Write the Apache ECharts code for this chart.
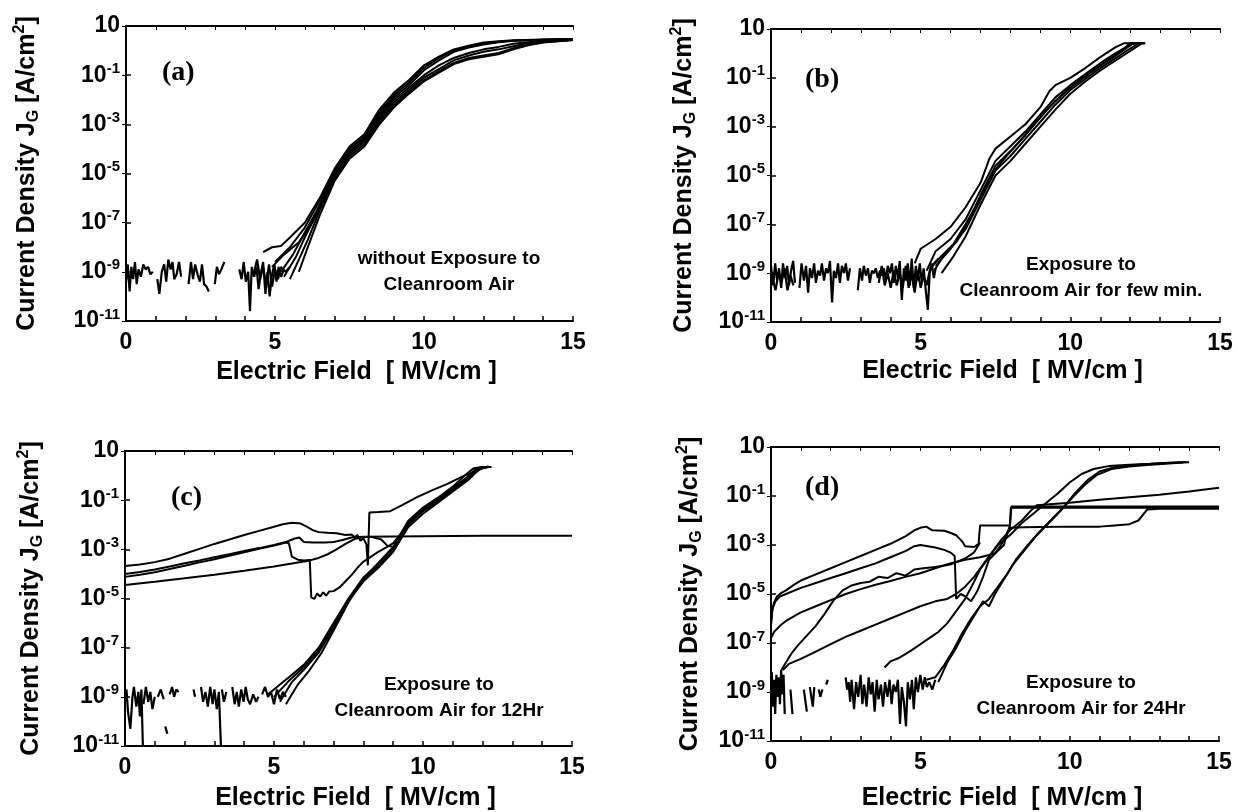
<!DOCTYPE html>
<html>
<head>
<meta charset="utf-8">
<script src="https://cdn.jsdelivr.net/npm/echarts@6.0.0/dist/echarts.min.js"></script>
<style>
html, body { margin: 0; padding: 0; background: #fff; }
#main { width: 1238px; height: 812px; }
</style>
</head>
<body>
<div id="main"></div>
<script>
// every point is [E in MV/cm, log10 of J in A/cm2]

// (a) without exposure
const a1 = [[4.6,-8.2],[4.9,-8.0],[5.2,-7.95],[5.5,-7.6],[6.0,-7.0],[6.5,-6.0],[7.0,-4.8],[7.5,-3.9],[8.0,-3.4],[8.5,-2.4],[9.0,-1.7],[9.5,-1.2],[10.0,-0.6],[10.5,-0.25],[11.0,0.05],[11.5,0.2],[12.0,0.33],[12.5,0.38],[13.0,0.42],[14.0,0.45],[15.0,0.47]];
const a2 = [[5.0,-8.6],[5.5,-8.0],[6.0,-7.2],[6.5,-6.1],[7.0,-4.9],[7.5,-4.0],[8.0,-3.5],[8.5,-2.5],[9.0,-1.8],[9.5,-1.3],[10.0,-0.7],[10.5,-0.3],[11.0,0.0],[11.5,0.18],[12.0,0.3],[12.5,0.36],[13.0,0.4],[14.0,0.44],[15.0,0.47]];
const a3 = [[5.2,-9.0],[5.6,-8.3],[6.0,-7.4],[6.5,-6.3],[7.0,-5.0],[7.5,-4.1],[8.0,-3.6],[8.5,-2.6],[9.0,-1.9],[9.5,-1.4],[10.0,-0.8],[10.5,-0.4],[11.0,-0.05],[11.5,0.12],[12.0,0.25],[12.5,0.34],[13.0,0.4],[14.0,0.44],[15.0,0.46]];
const a4 = [[5.3,-9.2],[5.7,-8.4],[6.0,-7.6],[6.5,-6.4],[7.0,-5.1],[7.5,-4.2],[8.0,-3.7],[8.5,-2.8],[9.0,-2.1],[9.5,-1.6],[10.0,-1.1],[10.5,-0.75],[11.0,-0.4],[11.5,-0.2],[12.0,-0.05],[12.5,0.05],[13.0,0.18],[13.5,0.3],[14.0,0.36],[15.0,0.44]];
const a5 = [[5.5,-9.3],[5.8,-8.5],[6.1,-7.7],[6.5,-6.5],[7.0,-5.2],[7.5,-4.3],[8.0,-3.8],[8.5,-2.9],[9.0,-2.2],[9.5,-1.7],[10.0,-1.2],[10.5,-0.85],[11.0,-0.5],[11.5,-0.3],[12.0,-0.2],[12.5,-0.1],[13.0,0.1],[13.5,0.25],[14.0,0.34],[15.0,0.43]];
const a6 = [[5.8,-9.0],[6.1,-8.0],[6.5,-6.7],[7.0,-5.3],[7.5,-4.4],[8.0,-3.9],[8.5,-3.0],[9.0,-2.3],[9.5,-1.75],[10.0,-1.25],[10.5,-0.9],[11.0,-0.55],[11.5,-0.35],[12.0,-0.25],[12.5,-0.15],[13.0,0.05],[13.5,0.22],[14.0,0.33],[15.0,0.43]];
const a7 = [[4.9,-8.8],[5.3,-8.3],[5.8,-7.8],[6.2,-7.1],[6.6,-6.0],[7.0,-5.0],[7.5,-4.2],[8.0,-3.6],[8.5,-2.7],[9.0,-2.0],[9.5,-1.5],[10.0,-1.0],[10.5,-0.6],[11.0,-0.3],[11.5,-0.1],[12.0,0.05],[12.5,0.15],[13.0,0.28],[14.0,0.4],[15.0,0.45]];
const aNoise = [
  [[0.0,-9.4],[0.06,-8.7],[0.12,-9.8],[0.18,-8.8],[0.24,-9.3],[0.3,-8.6],[0.36,-9.5],[0.42,-8.9],[0.5,-9.2],[0.58,-8.7],[0.66,-8.9],[0.74,-8.8],[0.82,-9.1],[0.9,-9.0]],
  [[1.05,-9.3],[1.12,-9.9],[1.2,-9.0],[1.28,-8.7],[1.35,-9.4],[1.42,-8.5],[1.5,-8.9],[1.56,-8.6],[1.62,-9.3],[1.7,-9.1],[1.78,-8.6],[1.85,-9.2]],
  [[2.1,-9.5],[2.18,-8.6],[2.25,-9.3],[2.32,-8.7],[2.4,-9.1],[2.48,-9.4],[2.55,-8.7],[2.62,-9.5],[2.7,-9.6],[2.78,-9.8]],
  [[2.98,-9.5],[3.05,-8.8],[3.12,-9.1],[3.2,-8.9],[3.3,-8.6]],
  [[3.8,-8.9],[3.88,-9.3],[3.95,-8.6],[4.02,-9.4],[4.1,-9.0],[4.16,-10.6],[4.22,-8.8],[4.3,-9.2],[4.38,-8.8],[4.45,-9.7],[4.52,-9.1],[4.6,-8.6],[4.68,-9.9],[4.75,-9.0],[4.82,-10.0],[4.9,-9.1],[4.98,-8.7],[5.05,-9.4],[5.12,-8.8],[5.2,-9.2],[5.3,-8.9]],
  [[4.3,-9.0],[4.4,-8.5],[4.5,-9.3],[4.6,-8.8],[4.7,-9.5],[4.8,-8.7],[4.9,-9.6],[5.0,-8.9],[5.1,-9.3],[5.2,-8.8],[5.35,-9.0],[5.5,-8.8]]
];

// (b) few minutes
const b1 = [[4.8,-8.6],[5.0,-8.0],[5.5,-7.6],[6.0,-7.1],[6.5,-6.3],[7.0,-5.3],[7.3,-4.3],[7.5,-3.9],[8.0,-3.4],[8.5,-2.9],[9.0,-2.2],[9.3,-1.55],[9.5,-1.3],[10.0,-1.0],[10.5,-0.6],[11.0,-0.15],[11.5,0.25],[11.8,0.42],[12.2,0.42]];
const b2 = [[5.2,-8.9],[5.5,-8.1],[6.0,-7.6],[6.5,-6.8],[7.0,-5.6],[7.5,-4.4],[8.0,-3.8],[8.5,-3.2],[9.0,-2.5],[9.5,-1.8],[10.0,-1.3],[10.5,-0.85],[11.0,-0.4],[11.5,0.0],[12.0,0.35],[12.2,0.42],[12.4,0.42]];
const b3 = [[5.4,-9.0],[5.8,-8.2],[6.2,-7.7],[6.6,-6.9],[7.0,-5.8],[7.5,-4.6],[8.0,-4.0],[8.5,-3.35],[9.0,-2.6],[9.5,-1.95],[10.0,-1.4],[10.5,-0.95],[11.0,-0.5],[11.5,-0.1],[11.8,0.15],[12.1,0.42],[12.4,0.42]];
const b4 = [[5.5,-8.7],[6.0,-8.0],[6.5,-7.2],[7.0,-6.0],[7.5,-4.8],[8.0,-4.2],[8.5,-3.5],[9.0,-2.8],[9.5,-2.1],[10.0,-1.5],[10.5,-1.05],[11.0,-0.6],[11.5,-0.2],[12.0,0.2],[12.3,0.42],[12.5,0.42]];
const b5 = [[5.7,-9.0],[6.1,-8.3],[6.5,-7.5],[7.0,-6.2],[7.5,-5.0],[8.0,-4.4],[8.5,-3.7],[9.0,-3.0],[9.5,-2.3],[10.0,-1.65],[10.5,-1.15],[11.0,-0.7],[11.5,-0.3],[12.0,0.1],[12.4,0.42],[12.5,0.42]];
const b6 = [[5.3,-8.8],[5.7,-8.3],[6.1,-7.8],[6.5,-7.0],[7.0,-5.9],[7.4,-4.9],[7.8,-4.3],[8.3,-3.6],[8.8,-2.9],[9.3,-2.2],[9.8,-1.6],[10.3,-1.1],[10.8,-0.65],[11.3,-0.25],[11.7,0.1],[12.0,0.42],[12.3,0.42]];
const bNoise = [
  [[0.0,-8.7],[0.07,-9.5],[0.14,-8.6],[0.2,-9.3],[0.27,-8.8],[0.34,-9.6],[0.4,-8.6],[0.47,-9.2],[0.54,-8.7],[0.6,-9.5],[0.67,-8.9],[0.74,-8.5],[0.8,-9.4]],
  [[0.95,-9.6],[1.02,-8.6],[1.1,-9.3],[1.17,-8.7],[1.24,-9.8],[1.3,-8.8],[1.37,-9.2],[1.44,-8.6],[1.5,-9.4],[1.57,-8.9],[1.64,-9.1],[1.7,-8.6],[1.77,-9.3],[1.84,-8.8],[1.9,-9.0],[1.97,-8.5],[2.04,-10.2],[2.1,-8.9],[2.17,-9.2],[2.24,-8.6],[2.3,-9.4],[2.37,-8.7],[2.44,-9.0],[2.5,-8.6],[2.57,-9.3],[2.64,-8.8]],
  [[2.9,-9.7],[2.97,-8.8],[3.04,-9.3],[3.1,-8.7],[3.17,-9.1],[3.24,-8.8],[3.3,-9.4],[3.37,-8.9],[3.44,-9.0],[3.5,-8.8],[3.57,-9.2],[3.64,-8.9],[3.7,-9.1],[3.77,-8.8],[3.84,-9.3],[3.9,-8.7],[3.97,-9.0],[4.04,-8.6],[4.1,-9.4],[4.17,-8.7],[4.24,-9.2],[4.3,-8.5],[4.37,-10.1],[4.44,-8.8],[4.5,-9.3],[4.57,-8.6],[4.64,-9.5],[4.7,-8.4],[4.77,-9.6],[4.84,-8.7],[4.9,-9.3],[4.97,-8.6],[5.04,-9.4],[5.1,-8.8],[5.17,-9.7],[5.24,-10.5],[5.3,-9.0],[5.37,-8.6],[5.44,-9.2],[5.5,-8.8]],
  [[0.05,-9.2],[0.15,-9.7],[0.25,-9.0],[0.35,-9.4],[0.45,-8.8],[0.55,-9.7],[0.65,-9.1],[0.75,-9.5]],
  [[3.6,-9.4],[3.7,-8.7],[3.8,-9.5],[3.9,-9.0],[4.0,-9.6],[4.1,-8.9],[4.2,-9.5],[4.3,-9.0],[4.4,-9.6],[4.5,-8.7],[4.6,-9.6],[4.7,-9.0],[4.8,-9.8],[4.9,-8.9],[5.0,-9.6],[5.1,-9.1],[5.2,-9.5],[5.3,-8.9],[5.45,-8.6],[5.6,-8.4]]
];

// (c) 12 hours
const c1 = [[4.8,-8.9],[5.2,-8.5],[5.5,-8.2],[6.0,-7.7],[6.5,-7.0],[7.0,-6.0],[7.5,-5.0],[8.0,-4.15],[8.5,-3.6],[9.0,-2.95],[9.5,-1.9],[10.0,-1.35],[10.5,-0.95],[11.0,-0.5],[11.5,-0.05],[11.8,0.3],[12.2,0.35]];
const c2 = [[5.0,-9.0],[5.5,-8.35],[6.0,-7.8],[6.5,-7.1],[7.0,-6.1],[7.5,-5.05],[8.0,-4.25],[8.5,-3.7],[9.0,-3.05],[9.5,-2.0],[10.0,-1.45],[10.5,-1.05],[11.0,-0.6],[11.5,-0.15],[11.9,0.3],[12.2,0.35]];
const c3 = [[5.2,-9.2],[5.6,-8.4],[6.0,-7.9],[6.5,-7.2],[7.0,-6.2],[7.5,-5.1],[8.0,-4.3],[8.5,-3.75],[9.0,-3.1],[9.5,-2.1],[10.0,-1.55],[10.5,-1.1],[11.0,-0.65],[11.5,-0.2],[11.8,0.15],[12.0,0.35],[12.3,0.35]];
const c4 = [[5.4,-9.3],[5.8,-8.5],[6.2,-7.9],[6.6,-7.2],[7.0,-6.3],[7.5,-5.15],[8.0,-4.2],[8.5,-3.55],[9.0,-2.9],[9.5,-1.85],[10.0,-1.3],[10.5,-0.9],[11.0,-0.45],[11.4,0.0],[11.7,0.3],[12.0,0.35]];
const c5 = [[0,-3.68],[0.5,-3.62],[1,-3.52],[1.5,-3.38],[2,-3.18],[2.5,-2.98],[3,-2.78],[3.5,-2.6],[4,-2.42],[4.5,-2.25],[5,-2.08],[5.3,-1.98],[5.6,-1.92],[5.9,-1.95],[6.1,-2.08],[6.3,-2.22],[6.5,-2.3],[6.8,-2.33],[7.1,-2.35],[7.4,-2.42],[7.6,-2.4],[7.7,-2.5],[7.8,-2.42],[7.9,-2.65],[8.0,-2.55],[8.1,-2.8],[8.15,-3.65],[8.2,-1.5],[8.5,-1.48],[8.9,-1.45],[9.3,-1.2],[9.8,-0.88],[10.3,-0.6],[10.8,-0.35],[11.3,-0.05],[11.8,0.2],[12.2,0.38]];
const c6 = [[0,-4.0],[0.5,-3.92],[1,-3.82],[1.5,-3.7],[2,-3.57],[2.5,-3.45],[3,-3.32],[3.5,-3.2],[4,-3.07],[4.5,-2.95],[5,-2.82],[5.4,-2.7],[5.7,-2.56],[5.85,-2.52],[6.0,-2.7],[6.3,-2.72],[6.7,-2.72],[7.0,-2.7],[7.3,-2.62],[7.6,-2.52],[8,-2.49],[9,-2.48],[10,-2.47],[11,-2.46],[12,-2.45],[13,-2.45],[14,-2.45],[15,-2.45]];
const c7 = [[0,-4.12],[0.5,-4.03],[1,-3.93],[1.5,-3.8],[2,-3.67],[2.5,-3.53],[3,-3.4],[3.5,-3.26],[4,-3.12],[4.5,-2.98],[5,-2.85],[5.4,-2.72],[5.5,-2.75],[5.6,-3.3],[5.8,-3.42],[6.0,-3.45],[6.2,-3.43],[6.25,-4.95],[6.35,-5.02],[6.45,-4.8],[6.55,-4.92],[6.65,-4.75],[6.75,-4.88],[6.85,-4.72],[7.0,-4.7],[7.2,-4.55],[7.4,-4.3],[7.6,-4.05],[7.8,-3.75],[8.0,-3.5],[8.2,-3.35],[8.5,-3.1],[8.8,-2.9],[9.0,-2.75],[9.3,-2.3],[9.6,-1.8],[10.0,-1.4],[10.5,-1.0],[11.0,-0.55],[11.5,-0.1],[11.9,0.3],[12.1,0.35]];
const c8 = [[0,-4.45],[1,-4.32],[2,-4.18],[3,-4.03],[4,-3.87],[5,-3.7],[5.6,-3.58],[6.2,-3.45],[6.5,-3.35],[6.8,-3.2],[7.1,-3.0],[7.4,-2.78],[7.7,-2.58],[8.0,-2.5],[8.3,-2.5],[8.6,-2.6],[8.8,-2.85],[9.0,-2.9],[9.2,-2.6],[9.5,-1.95],[10,-1.38],[10.5,-0.98],[11,-0.52],[11.5,-0.08],[11.9,0.33],[12.2,0.35]];
const cNoise = [
  [[0.0,-9.2],[0.05,-8.7],[0.1,-9.6],[0.18,-10.3],[0.25,-9.0],[0.3,-8.6],[0.38,-9.4],[0.45,-8.8],[0.5,-9.8],[0.55,-8.7],[0.6,-11.0]],
  [[0.62,-9.3],[0.7,-8.6],[0.78,-9.2],[0.85,-8.8],[0.92,-9.5],[1.0,-9.0]],
  [[1.1,-9.0],[1.2,-8.7],[1.3,-9.1]],
  [[1.35,-10.2],[1.42,-10.5]],
  [[1.5,-8.9],[1.58,-8.6],[1.65,-9.0],[1.72,-8.7],[1.8,-8.8]],
  [[2.3,-8.7],[2.35,-9.0]],
  [[2.55,-8.6],[2.62,-9.2],[2.7,-8.8],[2.78,-9.4],[2.86,-8.6],[2.94,-9.3],[3.0,-8.7],[3.08,-9.5],[3.15,-8.8],[3.22,-11.0]],
  [[3.25,-8.7],[3.32,-9.2],[3.4,-8.8]],
  [[3.6,-8.6],[3.68,-9.3],[3.75,-8.8],[3.82,-9.4],[3.9,-8.7],[3.98,-9.2],[4.05,-8.6],[4.12,-9.1],[4.2,-9.3],[4.3,-8.9],[4.4,-9.2],[4.48,-9.0]],
  [[4.6,-8.9],[4.7,-8.6],[4.8,-9.0],[4.9,-8.8],[5.0,-9.3],[5.1,-8.7],[5.2,-9.1],[5.3,-8.8],[5.4,-9.0]]
];

// (d) 24 hours
const d1 = [[0.0,-6.3],[0.04,-5.7],[0.1,-5.35],[0.2,-5.1],[0.35,-4.95],[0.5,-4.85],[0.8,-4.6],[1.0,-4.45],[1.5,-4.2],[2.0,-3.95],[2.5,-3.7],[3.0,-3.45],[3.5,-3.2],[4.0,-2.95],[4.5,-2.65],[4.8,-2.4],[5.0,-2.3],[5.2,-2.25],[5.4,-2.4],[5.8,-2.42],[6.0,-2.5],[6.2,-2.6],[6.4,-2.85],[6.5,-3.05],[6.8,-3.08],[6.95,-2.95],[7.0,-2.2],[7.5,-2.2],[8.0,-2.2],[8.05,-1.43],[9,-1.43],[10,-1.43],[11,-1.43],[12,-1.43],[13,-1.43],[14,-1.43],[15,-1.43]];
const d2 = [[0.0,-6.2],[0.05,-5.6],[0.15,-5.3],[0.3,-5.1],[0.5,-5.0],[1.0,-4.75],[1.5,-4.55],[2.0,-4.35],[2.5,-4.15],[3.0,-3.95],[3.5,-3.75],[4.0,-3.5],[4.5,-3.25],[4.8,-3.05],[5.0,-3.0],[5.5,-3.1],[5.8,-3.2],[6.0,-3.3],[6.15,-3.45],[6.2,-5.2],[6.35,-5.0],[6.5,-5.1],[6.7,-5.3],[6.9,-4.9],[7.1,-4.3],[7.3,-3.6],[7.5,-3.35],[7.7,-3.0],[7.9,-2.6],[8.0,-2.2],[8.03,-1.48],[9,-1.48],[10,-1.48],[11,-1.48],[12,-1.48],[13,-1.48],[14,-1.48],[15,-1.48]];
const d3 = [[0.0,-6.8],[0.1,-6.55],[0.3,-6.3],[0.5,-6.1],[1.0,-5.75],[1.5,-5.5],[2.0,-5.25],[2.5,-5.0],[3.0,-4.8],[3.5,-4.62],[4.0,-4.47],[4.5,-4.3],[5.0,-4.15],[5.5,-3.95],[6.0,-3.75],[6.5,-3.6],[7.0,-3.5],[7.5,-3.35],[7.8,-3.0],[7.9,-2.5],[8.0,-2.3],[8.5,-2.28],[9.0,-2.27],[10,-2.25],[11,-2.25],[11.5,-2.2],[12,-2.15],[12.3,-2.0],[12.6,-1.55],[13,-1.52],[14,-1.52],[15,-1.52]];
const d4 = [[0.35,-8.1],[0.5,-7.8],[0.7,-7.4],[0.9,-7.1],[1.2,-6.7],[1.5,-6.3],[1.8,-5.8],[2.1,-5.25],[2.4,-4.85],[2.7,-4.65],[3.0,-4.55],[3.3,-4.5],[3.6,-4.3],[3.9,-4.35],[4.2,-4.15],[4.5,-4.25],[4.8,-4.0],[5.1,-3.95],[5.5,-3.9],[6.0,-3.8],[6.5,-3.55],[6.8,-3.3],[7.0,-2.9]];
const d5 = [[0.4,-8.1],[0.6,-7.85],[1.0,-7.65],[1.5,-7.35],[2.0,-7.05],[2.5,-6.75],[3.0,-6.5],[3.5,-6.25],[4.0,-6.0],[4.5,-5.75],[5.0,-5.5],[5.5,-5.3],[5.9,-5.2],[6.2,-5.0],[6.5,-4.7],[6.8,-4.3],[7.1,-3.8],[7.4,-3.3],[7.7,-2.8],[8.0,-2.4],[8.4,-2.0],[8.7,-1.6],[8.9,-1.38],[10,-1.28],[11,-1.15],[12,-1.05],[13,-0.95],[14,-0.82],[15,-0.66]];
const d6 = [[3.8,-8.0],[4.0,-7.75],[4.3,-7.6],[4.5,-7.45],[4.7,-7.3],[5.0,-7.05],[5.3,-6.8],[5.6,-6.55],[5.9,-6.2],[6.2,-5.7],[6.5,-5.2],[6.8,-4.5],[7.0,-4.0],[7.3,-3.5],[7.6,-3.0],[8.0,-2.6],[8.4,-2.1],[8.8,-1.7],[9.2,-1.3],[9.6,-0.9],[10.0,-0.45],[10.4,-0.1],[10.8,0.1],[11.3,0.22],[12,0.28],[12.7,0.32],[13.3,0.36],[13.9,0.39]];
const d7 = [[5.2,-8.5],[5.5,-8.4],[5.8,-7.9],[6.1,-7.3],[6.4,-6.6],[6.7,-6.0],[7.0,-5.5],[7.3,-5.2],[7.6,-4.7],[7.9,-4.2],[8.2,-3.6],[8.6,-3.0],[9.0,-2.45],[9.4,-1.95],[9.8,-1.45],[10.2,-0.85],[10.6,-0.35],[11.0,0.0],[11.5,0.18],[12,0.25],[12.5,0.3],[13,0.33],[13.5,0.36],[14,0.38]];
const d8 = [[5.6,-8.6],[5.9,-7.8],[6.2,-7.2],[6.5,-6.5],[6.8,-5.9],[7.1,-5.3],[7.3,-5.5],[7.5,-5.0],[7.8,-4.4],[8.1,-3.8],[8.5,-3.2],[8.9,-2.6],[9.3,-2.1],[9.7,-1.6],[10.1,-1.05],[10.5,-0.55],[10.9,-0.15],[11.4,0.1],[12,0.2],[12.6,0.27],[13.2,0.32],[13.8,0.37]];
const dNoise = [
  [[0.0,-9.0],[0.03,-8.2],[0.06,-9.6],[0.1,-8.5],[0.14,-9.9],[0.18,-8.3],[0.22,-9.2],[0.26,-8.4],[0.3,-9.5],[0.34,-8.1],[0.38,-9.1],[0.42,-8.3],[0.46,-9.9]],
  [[0.65,-8.9],[0.72,-9.9]],
  [[1.1,-8.9],[1.2,-9.8]],
  [[1.3,-8.8],[1.4,-9.6],[1.45,-8.8]],
  [[1.6,-8.9],[1.65,-9.2],[1.72,-8.9]],
  [[1.85,-8.7],[1.9,-8.5]],
  [[2.5,-8.4],[2.55,-8.9],[2.6,-8.6],[2.65,-9.4],[2.7,-8.5],[2.78,-9.7],[2.85,-8.6],[2.92,-9.2],[3.0,-8.3],[3.06,-9.5],[3.12,-8.7],[3.2,-9.6],[3.27,-8.4],[3.34,-9.1],[3.4,-8.6],[3.47,-9.8],[3.54,-8.5],[3.6,-9.3],[3.68,-8.7],[3.75,-9.6],[3.82,-8.6],[3.9,-9.2],[3.97,-8.5],[4.04,-9.5],[4.1,-8.7],[4.18,-9.0],[4.25,-8.5],[4.32,-10.3],[4.38,-8.8],[4.45,-9.4],[4.52,-10.4],[4.58,-8.6],[4.65,-9.3],[4.72,-8.5],[4.78,-9.7],[4.85,-8.4],[4.92,-9.0],[5.0,-8.3],[5.08,-8.9],[5.15,-8.4],[5.22,-8.8],[5.3,-8.6],[5.4,-8.9],[5.5,-8.5]]
];

const panelLabels = ['(a)', '(b)', '(c)', '(d)'];
const notes = [
  'without Exposure to\nCleanroom Air',
  'Exposure to\nCleanroom Air for few min.',
  'Exposure to\nCleanroom Air for 12Hr',
  'Exposure to\nCleanroom Air for 24Hr'
];
const panels = [
  { curves: [a1, a2, a3, a4, a5, a6, a7], noise: aNoise },
  { curves: [b1, b2, b3, b4, b5, b6], noise: bNoise },
  { curves: [c1, c2, c3, c4, c5, c6, c7, c8], noise: cNoise },
  { curves: [d1, d2, d3, d4, d5, d6, d7, d8], noise: dNoise }
];

// layout
const grids = [
  { left: 126, top: 26, width: 447, height: 295 },
  { left: 771, top: 29, width: 449, height: 293 },
  { left: 125, top: 451, width: 447, height: 296 },
  { left: 771, top: 447, width: 448, height: 294 }
];
const yNameGap = [84, 72, 79, 66];
const xNameGap = [39, 37, 40, 45];
const labelPos = [[162, 73], [805, 80], [171, 498], [805, 488]];
const notePos = [[449, 272], [1081, 278], [439, 698], [1081, 696]];

const FONT = '"Liberation Sans", Arial, Helvetica, sans-serif';
const SERIF = '"Liberation Serif", "Times New Roman", serif';

const axisLine = { show: true, lineStyle: { color: '#000', width: 2 } };

const xAxes = [];
const yAxes = [];
grids.forEach((g, gi) => {
  xAxes.push({
    type: 'value', gridIndex: gi, position: 'bottom', min: 0, max: 15, interval: 1,
    axisLine: axisLine,
    axisTick: { inside: true, length: 5, lineStyle: { color: '#000', width: 1.5 } },
    splitLine: { show: false },
    axisLabel: {
      margin: 10, color: '#000', fontFamily: FONT, fontWeight: 'bold', fontSize: 23,
      formatter: v => (v % 5 === 0 ? String(v) : '')
    },
    name: 'Electric Field  [ MV/cm ]', nameLocation: 'middle', nameGap: xNameGap[gi],
    nameTextStyle: { color: '#000', fontFamily: FONT, fontWeight: 'bold', fontSize: 25, padding: [0, 0, 0, 14] }
  });
  xAxes.push({
    type: 'value', gridIndex: gi, position: 'top', min: 0, max: 15, interval: 1,
    axisLine: axisLine,
    axisTick: { inside: true, length: 4, lineStyle: { color: '#000', width: 1 } },
    axisLabel: { show: false }, splitLine: { show: false }
  });
  yAxes.push({
    type: 'log', logBase: 10, gridIndex: gi, position: 'left', min: 1e-11, max: 10, interval: 2,
    axisLine: axisLine,
    axisTick: { inside: true, length: 5, lineStyle: { color: '#000', width: 1.5 } },
    splitLine: { show: false },
    axisLabel: {
      margin: 6, color: '#000', fontFamily: FONT, fontWeight: 'bold', fontSize: 23, lineHeight: 28,
      formatter: v => {
        const e = Math.round(Math.log10(v));
        return e === 1 ? '10' : '10{s|' + e + '}';
      },
      rich: { s: { fontSize: 15, fontFamily: FONT, fontWeight: 'bold', color: '#000', verticalAlign: 'top', lineHeight: 16 } }
    },
    name: 'Current Density J{sub|G} [A/cm{sup|2}]', nameLocation: 'middle', nameGap: yNameGap[gi],
    nameTextStyle: {
      color: '#000', fontFamily: FONT, fontWeight: 'bold', fontSize: 25, lineHeight: 30,
      rich: {
        sub: { fontSize: 16, fontFamily: FONT, fontWeight: 'bold', color: '#000', verticalAlign: 'bottom', lineHeight: 16 },
        sup: { fontSize: 16, fontFamily: FONT, fontWeight: 'bold', color: '#000', verticalAlign: 'top', lineHeight: 16 }
      }
    }
  });
  yAxes.push({
    type: 'log', logBase: 10, gridIndex: gi, position: 'right', min: 1e-11, max: 10, interval: 2,
    axisLine: axisLine,
    axisTick: { inside: true, length: 4, lineStyle: { color: '#000', width: 1 } },
    axisLabel: { show: false }, splitLine: { show: false }
  });
});

const series = [];
panels.forEach((p, gi) => {
  p.curves.forEach(c => {
    series.push({
      type: 'line', xAxisIndex: 2 * gi, yAxisIndex: 2 * gi,
      data: c.map(pt => [pt[0], Math.pow(10, pt[1])]),
      symbol: 'none', silent: true,
      lineStyle: { color: '#000', width: 2 }
    });
  });
  p.noise.forEach(c => {
    series.push({
      type: 'line', xAxisIndex: 2 * gi, yAxisIndex: 2 * gi,
      data: c.map(pt => [pt[0], Math.pow(10, pt[1])]),
      symbol: 'none', silent: true,
      lineStyle: { color: '#000', width: 2.2 }
    });
  });
});

const graphic = [];
panelLabels.forEach((t, i) => {
  graphic.push({
    type: 'text', x: labelPos[i][0], y: labelPos[i][1], silent: true,
    style: { text: t, fill: '#000', font: 'bold 28px ' + SERIF, verticalAlign: 'middle', align: 'left' }
  });
  graphic.push({
    type: 'text', x: notePos[i][0], y: notePos[i][1], silent: true,
    style: { text: notes[i], fill: '#000', font: 'bold 19px ' + FONT, lineHeight: 26, verticalAlign: 'middle', align: 'center' }
  });
});

const chart = echarts.init(document.getElementById('main'));
chart.setOption({
  animation: false,
  backgroundColor: '#fff',
  grid: grids,
  xAxis: xAxes,
  yAxis: yAxes,
  series: series,
  graphic: graphic
});
</script>
</body>
</html>
